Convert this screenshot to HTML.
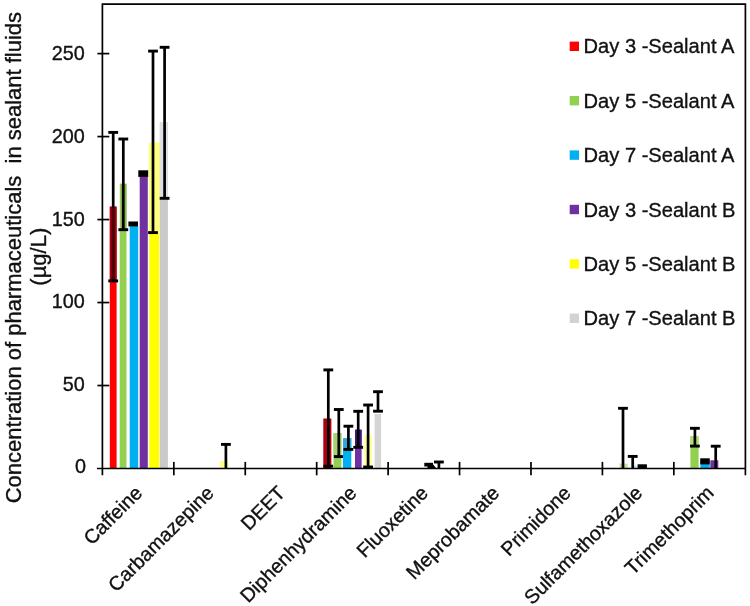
<!DOCTYPE html>
<html><head><meta charset="utf-8"><title>Chart</title>
<style>
html,body{margin:0;padding:0;background:#fff;}
body{width:750px;height:606px;overflow:hidden;}
svg{display:block;font-family:"Liberation Sans",sans-serif;filter:blur(0.35px);}
text{fill:#111;stroke:#111;stroke-width:0.35px;}
</style></head>
<body>
<svg width="750" height="606" viewBox="0 0 750 606">
<rect width="750" height="606" fill="#fff"/>
<g shape-rendering="geometricPrecision">
<rect x="109.80" y="206.60" width="6.80" height="261.90" fill="#ff0000" />
<rect x="109.80" y="206.60" width="6.80" height="74.30" fill="#a30012" />
<rect x="111.85" y="132.40" width="2.70" height="148.50" fill="#000" />
<rect x="108.30" y="130.95" width="9.80" height="2.90" fill="#000" />
<rect x="108.30" y="279.45" width="9.80" height="2.90" fill="#000" />
<rect x="111.85" y="207.50" width="2.70" height="71.80" fill="#4d0006" />
<rect x="119.70" y="183.50" width="6.80" height="285.00" fill="#92d050" />
<rect x="119.70" y="183.50" width="6.80" height="46.20" fill="#fff" />
<rect x="120.20" y="183.80" width="6.40" height="45.90" fill="#86b84a" />
<rect x="121.95" y="139.00" width="2.70" height="90.70" fill="#000" />
<rect x="118.40" y="137.55" width="9.80" height="2.90" fill="#000" />
<rect x="118.40" y="228.25" width="9.80" height="2.90" fill="#000" />
<rect x="129.70" y="226.00" width="8.50" height="242.50" fill="#00b0f0" />
<rect x="128.40" y="221.50" width="9.60" height="4.90" fill="#000" />
<rect x="139.70" y="176.50" width="8.10" height="292.00" fill="#7030a0" />
<rect x="138.30" y="170.30" width="9.90" height="6.60" fill="#000" />
<rect x="149.30" y="142.80" width="10.00" height="325.70" fill="#ffff00" />
<rect x="149.30" y="142.80" width="10.00" height="89.80" fill="#ffff78" />
<rect x="151.65" y="51.10" width="2.70" height="181.50" fill="#000" />
<rect x="148.10" y="49.65" width="9.80" height="2.90" fill="#000" />
<rect x="148.10" y="231.15" width="9.80" height="2.90" fill="#000" />
<rect x="159.80" y="122.50" width="8.10" height="346.00" fill="#c9c9c9" />
<rect x="159.80" y="122.50" width="8.10" height="75.80" fill="#dedee6" />
<rect x="163.25" y="47.30" width="2.70" height="151.00" fill="#000" />
<rect x="159.70" y="45.85" width="9.80" height="2.90" fill="#000" />
<rect x="159.70" y="196.85" width="9.80" height="2.90" fill="#000" />
<rect x="219.80" y="461.00" width="8.60" height="7.50" fill="#ffff90" />
<rect x="224.55" y="444.40" width="2.70" height="24.10" fill="#000" />
<rect x="221.00" y="442.95" width="9.80" height="2.90" fill="#000" />
<rect x="323.30" y="418.50" width="8.10" height="50.00" fill="#b00010" />
<rect x="326.95" y="369.90" width="2.70" height="96.30" fill="#000" />
<rect x="323.40" y="368.45" width="9.80" height="2.90" fill="#000" />
<rect x="323.40" y="464.75" width="9.80" height="2.90" fill="#000" />
<rect x="333.50" y="433.20" width="7.90" height="35.30" fill="#92d050" />
<rect x="333.50" y="433.20" width="7.90" height="23.40" fill="#a8cf70" />
<rect x="337.45" y="409.50" width="2.70" height="47.10" fill="#000" />
<rect x="333.90" y="408.05" width="9.80" height="2.90" fill="#000" />
<rect x="333.90" y="455.15" width="9.80" height="2.90" fill="#000" />
<rect x="343.00" y="438.30" width="8.30" height="30.20" fill="#00b0f0" />
<rect x="343.00" y="438.30" width="8.30" height="11.10" fill="#30a8d8" />
<rect x="347.05" y="426.20" width="2.70" height="23.20" fill="#000" />
<rect x="343.50" y="424.75" width="9.80" height="2.90" fill="#000" />
<rect x="343.50" y="447.95" width="9.80" height="2.90" fill="#000" />
<rect x="355.00" y="429.70" width="6.60" height="38.80" fill="#7030a0" />
<rect x="355.00" y="429.70" width="6.60" height="17.60" fill="#401878" />
<rect x="356.85" y="411.30" width="2.70" height="36.00" fill="#000" />
<rect x="353.30" y="409.85" width="9.80" height="2.90" fill="#000" />
<rect x="353.30" y="445.85" width="9.80" height="2.90" fill="#000" />
<rect x="364.50" y="435.00" width="7.10" height="33.50" fill="#ffff8c" />
<rect x="366.75" y="405.00" width="2.70" height="62.00" fill="#000" />
<rect x="363.20" y="403.55" width="9.80" height="2.90" fill="#000" />
<rect x="363.20" y="465.55" width="9.80" height="2.90" fill="#000" />
<rect x="374.60" y="414.00" width="6.50" height="54.50" fill="#d4d4d4" />
<rect x="376.65" y="391.70" width="2.70" height="19.50" fill="#000" />
<rect x="373.10" y="390.25" width="9.80" height="2.90" fill="#000" />
<rect x="373.10" y="409.75" width="9.80" height="2.90" fill="#000" />
<rect x="424.30" y="462.80" width="8.70" height="3.70" fill="#000" />
<path d="M427.5 466.3 L433.2 464.5 L436 468 L427.5 468 Z" fill="#000"/>
<rect x="437.55" y="462.00" width="2.70" height="6.50" fill="#000" />
<rect x="434.00" y="460.55" width="9.80" height="2.90" fill="#000" />
<rect x="619.60" y="463.60" width="8.00" height="4.90" fill="#c4e49c" />
<rect x="621.65" y="408.30" width="2.70" height="60.20" fill="#000" />
<rect x="618.10" y="406.85" width="9.80" height="2.90" fill="#000" />
<rect x="633.80" y="465.20" width="2.80" height="3.30" fill="#c4eafa" />
<rect x="631.35" y="456.40" width="2.70" height="12.10" fill="#000" />
<rect x="627.80" y="454.95" width="9.80" height="2.90" fill="#000" />
<rect x="637.60" y="464.30" width="9.30" height="4.20" fill="#000" />
<rect x="690.40" y="436.30" width="8.20" height="32.20" fill="#92d050" />
<rect x="690.40" y="436.30" width="8.20" height="9.80" fill="#b4d880" />
<rect x="693.55" y="428.30" width="2.70" height="17.80" fill="#000" />
<rect x="690.00" y="426.85" width="9.80" height="2.90" fill="#000" />
<rect x="690.00" y="444.65" width="9.80" height="2.90" fill="#000" />
<rect x="700.40" y="464.00" width="9.30" height="4.50" fill="#00b0f0" />
<rect x="700.20" y="458.30" width="9.60" height="6.10" fill="#000" />
<rect x="710.30" y="460.30" width="8.00" height="8.20" fill="#7030a0" />
<rect x="714.35" y="446.20" width="2.70" height="22.30" fill="#000" />
<rect x="710.80" y="444.75" width="9.80" height="2.90" fill="#000" />
</g>
<g>
<path d="M102.4 475.3 V4.1 H745.4 V475.3" fill="none" stroke="#000" stroke-width="1.7"/>
<path d="M96.9 468.5 H745.4" fill="none" stroke="#000" stroke-width="1.7"/>
<path d="M97.4 385.52 H109.3" stroke="#000" stroke-width="1.7"/>
<path d="M97.4 302.54 H109.3" stroke="#000" stroke-width="1.7"/>
<path d="M97.4 219.56 H109.3" stroke="#000" stroke-width="1.7"/>
<path d="M97.4 136.58 H109.3" stroke="#000" stroke-width="1.7"/>
<path d="M97.4 53.60 H109.3" stroke="#000" stroke-width="1.7"/>
<path d="M173.83 461.9 V475.3" stroke="#000" stroke-width="1.7"/>
<path d="M245.26 461.9 V475.3" stroke="#000" stroke-width="1.7"/>
<path d="M316.69 461.9 V475.3" stroke="#000" stroke-width="1.7"/>
<path d="M388.12 461.9 V475.3" stroke="#000" stroke-width="1.7"/>
<path d="M459.55 461.9 V475.3" stroke="#000" stroke-width="1.7"/>
<path d="M530.98 461.9 V475.3" stroke="#000" stroke-width="1.7"/>
<path d="M602.41 461.9 V475.3" stroke="#000" stroke-width="1.7"/>
<path d="M673.84 461.9 V475.3" stroke="#000" stroke-width="1.7"/>
</g>
<g>
<text x="86.00" y="473.40" text-anchor="end" font-size="19.8">0</text>
<text x="84.80" y="391.02" text-anchor="end" font-size="19.8">50</text>
<text x="84.80" y="308.34" text-anchor="end" font-size="19.8">100</text>
<text x="84.80" y="225.66" text-anchor="end" font-size="19.8">150</text>
<text x="84.80" y="142.98" text-anchor="end" font-size="19.8">200</text>
<text x="84.80" y="60.30" text-anchor="end" font-size="19.8">250</text>
<text transform="translate(20.6 257.6) rotate(-90) scale(1 1.035)" text-anchor="middle" font-size="22" style="white-space:pre">Concentration of pharmaceuticals  in sealant fluids</text>
<text transform="translate(46.0 256.7) rotate(-90) scale(1 1.035)" text-anchor="middle" font-size="22">(µg/L)</text>
<text transform="translate(143.52 494.2) rotate(-45)" text-anchor="end" font-size="19.8">Caffeine</text>
<text transform="translate(214.95 494.2) rotate(-45)" text-anchor="end" font-size="19.8">Carbamazepine</text>
<text transform="translate(286.38 494.2) rotate(-45)" text-anchor="end" font-size="19.8">DEET</text>
<text transform="translate(357.81 494.2) rotate(-45)" text-anchor="end" font-size="19.8">Diphenhydramine</text>
<text transform="translate(429.24 494.2) rotate(-45)" text-anchor="end" font-size="19.8">Fluoxetine</text>
<text transform="translate(500.66 494.2) rotate(-45)" text-anchor="end" font-size="19.8">Meprobamate</text>
<text transform="translate(572.10 494.2) rotate(-45)" text-anchor="end" font-size="19.8">Primidone</text>
<text transform="translate(643.52 494.2) rotate(-45)" text-anchor="end" font-size="19.8">Sulfamethoxazole</text>
<text transform="translate(714.96 494.2) rotate(-45)" text-anchor="end" font-size="19.8">Trimethoprim</text>
<rect x="569.7" y="41.60" width="9.3" height="9.4" fill="#ff0000"/>
<text x="583.6" y="53.40" font-size="20.1" style="white-space:pre">Day 3 -Sealant A</text>
<rect x="569.7" y="96.00" width="9.3" height="9.4" fill="#92d050"/>
<text x="583.6" y="107.80" font-size="20.1" style="white-space:pre">Day 5 -Sealant A</text>
<rect x="569.7" y="150.40" width="9.3" height="9.4" fill="#00b0f0"/>
<text x="583.6" y="162.20" font-size="20.1" style="white-space:pre">Day 7 -Sealant A</text>
<rect x="569.7" y="204.80" width="9.3" height="9.4" fill="#7030a0"/>
<text x="583.6" y="216.60" font-size="20.1" style="white-space:pre">Day 3 -Sealant B</text>
<rect x="569.7" y="259.20" width="9.3" height="9.4" fill="#ffff00"/>
<text x="583.6" y="271.00" font-size="20.1" style="white-space:pre">Day 5 -Sealant B</text>
<rect x="569.7" y="313.60" width="9.3" height="9.4" fill="#d2d2d2"/>
<text x="583.6" y="325.40" font-size="20.1" style="white-space:pre">Day 7 -Sealant B</text>
</g>
</svg>
</body></html>
